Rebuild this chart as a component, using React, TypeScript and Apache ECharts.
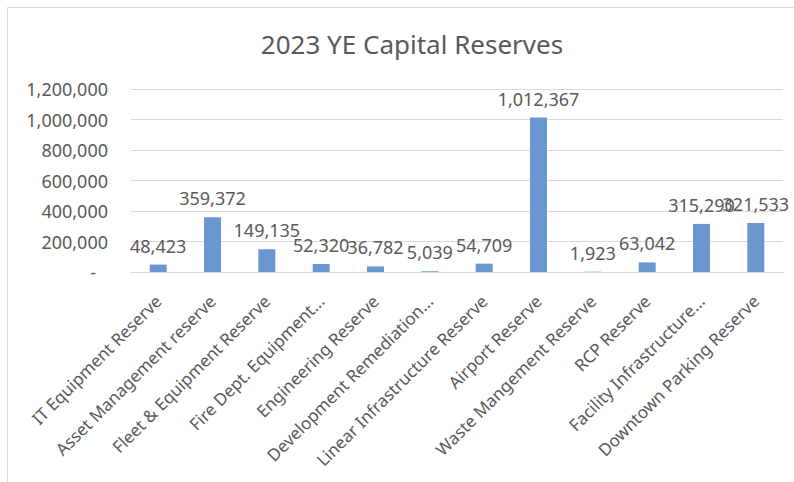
import React, { useEffect, useRef } from "react";
import * as echarts from "echarts";

const categories = [
  "IT Equipment Reserve",
  "Asset Management reserve",
  "Fleet & Equipment Reserve",
  "Fire Dept. Equipment...",
  "Engineering Reserve",
  "Development Remediation...",
  "Linear Infrastructure Reserve",
  "Airport Reserve",
  "Waste Mangement Reserve",
  "RCP Reserve",
  "Facility Infrastructure...",
  "Downtown Parking Reserve",
];

const reserves = [48423, 359372, 149135, 52320, 36782, 5039, 54709, 1012367, 1923, 63042, 315290, 321533];

const yTicks = { min: 0, max: 1200000, interval: 200000 };

const titleText = "2023 YE Capital Reserves";

const fmt = (v: number) => v.toLocaleString("en-US");

export default function App() {
  const ref = useRef<HTMLDivElement>(null);
  useEffect(() => {
    if (!ref.current) return;
    const chart = echarts.init(ref.current, undefined, { renderer: "svg" });
    const font = "'Noto Sans', 'Open Sans', sans-serif";
    chart.setOption({
      animation: false,
      backgroundColor: "#ffffff",
      textStyle: { fontFamily: font },
      title: {
        text: titleText,
        left: 407,
        top: 26,
        textAlign: "center",
        textStyle: { fontFamily: font, fontSize: 26, fontWeight: "normal", color: "#595959" },
      },
      graphic: [
        {
          type: "rect",
          shape: { x: 7.5, y: 7.5, width: 800, height: 500 },
          style: { fill: "none", stroke: "#d9d9d9", lineWidth: 1 },
          silent: true,
        },
      ],
      grid: { left: 131, right: 11, top: 89, bottom: 210, containLabel: false },
      xAxis: {
        type: "category",
        data: categories,
        axisLine: { show: true, lineStyle: { color: "#d9d9d9", width: 1 } },
        axisTick: { show: false },
        axisLabel: {
          interval: 0,
          rotate: 45,
          margin: 26,
          fontFamily: font,
          fontSize: 17,
          color: "#595959",
        },
      },
      yAxis: {
        type: "value",
        min: yTicks.min,
        max: yTicks.max,
        interval: yTicks.interval,
        axisLine: { show: false },
        axisTick: { show: false },
        splitLine: { lineStyle: { color: "#d9d9d9", width: 1 } },
        axisLabel: {
          margin: 23,
          fontFamily: font,
          fontSize: 18,
          color: "#595959",
          formatter: (v: number) => (v === 0 ? "{d|-}" : fmt(v)),
          rich: { d: { padding: [0, 12, 0, 0], fontSize: 18, color: "#595959", fontFamily: font } },
        },
      },
      series: [
        {
          type: "bar",
          data: reserves,
          barWidth: 17,
          itemStyle: { color: "#6a97cf" },
          label: {
            show: true,
            position: "top",
            distance: 10,
            fontFamily: font,
            fontSize: 18,
            color: "#595959",
            formatter: (p: any) => fmt(p.value),
          },
        },
      ],
    });
    return () => chart.dispose();
  }, []);
  return (
    <div
      ref={ref}
      style={{ position: "absolute", left: 0, top: 0, width: 794, height: 482 }}
    />
  );
}
